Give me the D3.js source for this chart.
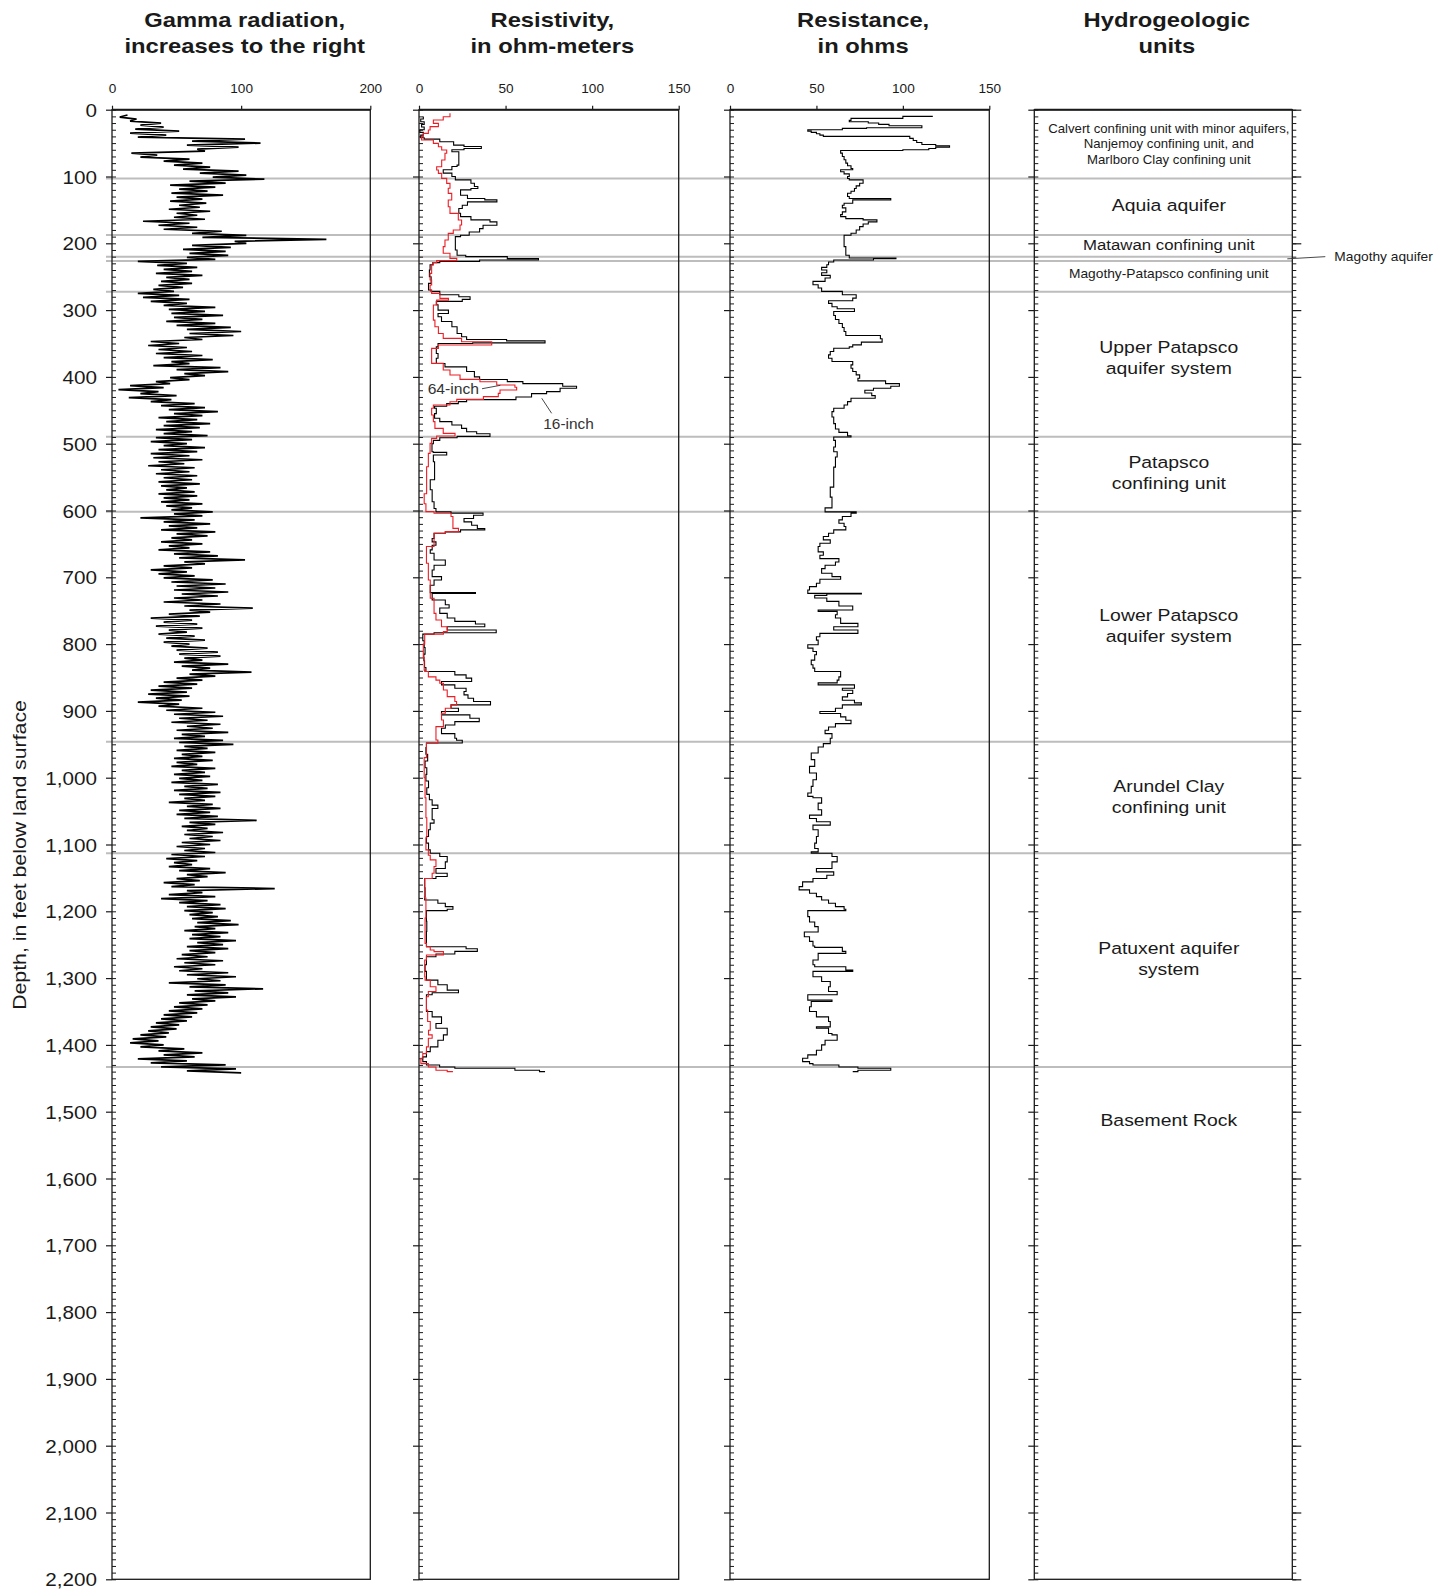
<!DOCTYPE html>
<html>
<head>
<meta charset="utf-8">
<script src="https://cdn.jsdelivr.net/npm/d3@7"></script>
<style>
  html, body { margin: 0; padding: 0; background: #fff; }
  svg { display: block; font-family: "Liberation Sans", Arial, Helvetica, sans-serif; }
</style>
</head>
<body>
<svg id="chart" width="1450" height="1589"></svg>
<script>
// ---------------------------------------------------------------------------
// Borehole geophysical logs, depth in feet below land surface
// ---------------------------------------------------------------------------

// Natural gamma log, sampled every 3 ft starting at 8 ft (0-200 scale)
const gammaTopDepth = 8;
const gammaStep = 3;
const gammaValues = [
  12,6,19,14,38,22,40,18,52,14,
  42,20,103,62,115,58,98,66,72,15,
  35,22,60,40,70,48,76,55,98,68,
  104,78,118,60,88,45,80,52,74,46,
  86,50,70,45,73,52,68,44,76,50,
  66,48,72,24,60,36,66,40,85,62,
  104,70,166,95,104,62,92,55,88,60,
  90,58,80,20,58,35,66,40,62,34,
  70,42,60,38,62,36,55,32,48,20,
  52,24,60,30,58,40,80,44,72,46,
  86,48,70,42,80,50,92,58,100,60,
  94,56,70,30,52,28,58,36,62,34,
  70,40,78,46,60,32,84,50,90,56,
  72,45,60,34,45,14,40,5,36,22,
  50,13,46,30,64,38,72,44,82,48,
  70,36,66,42,76,40,68,34,62,40,
  74,34,62,30,58,40,72,36,66,30,
  60,32,70,36,56,28,64,38,60,34,
  66,40,62,36,68,38,58,42,64,36,
  66,40,60,38,70,42,62,46,78,48,
  70,22,64,40,76,44,66,38,80,50,
  74,46,62,38,70,44,60,36,76,48,
  82,52,103,56,72,40,62,30,58,36,
  64,40,78,46,88,50,80,48,90,54,
  82,48,70,40,84,56,109,60,76,44,
  68,30,62,40,66,34,70,44,58,36,
  64,42,72,40,60,46,74,50,82,52,
  84,56,70,48,90,54,76,62,108,60,
  80,50,70,40,66,36,62,30,58,28,
  60,34,54,20,52,36,70,42,80,48,
  86,52,74,46,84,58,78,50,90,54,
  72,48,86,52,94,56,74,50,80,54,
  70,48,78,50,66,46,80,54,72,48,
  76,52,70,46,82,56,74,48,84,52,
  80,56,72,44,78,58,84,52,76,50,
  82,56,112,60,80,54,74,58,86,56,
  78,60,84,54,76,50,72,56,80,46,
  72,42,66,48,62,44,76,52,88,58,
  74,50,68,40,64,46,126,58,70,44,
  80,38,74,52,84,58,88,56,78,60,
  82,62,92,66,98,64,80,56,90,62,
  84,60,96,66,86,58,90,60,80,54,
  74,50,86,56,80,48,70,52,90,58,
  96,66,84,44,88,60,117,64,90,58,
  96,62,80,52,74,48,70,44,66,40,
  62,38,58,34,52,30,50,28,44,22,
  42,16,36,14,40,22,56,36,70,40,
  64,20,58,30,88,38,96,58,100
];

// 16-inch normal resistivity, [depth ft, ohm-meters]
const resistivity16 = [
  [10,2.5],[14,1],[18,3],[22,1.5],[26,3],[30,0.5],[34,2.5],[38,1],[42,3],[44,12],[48,20],[53,26],[55,36],[58,26],
  [60,19],[63,23],[75,23],[83,22],[85,19],[90,14],[95,19],[100,21],[105,30],[110,32],[115,34],[118,30],[120,24],
  [128,28],[133,38],[135,45],[138,28],[143,25],[148,23],[155,24],[160,30],[165,41],[168,45],[173,37],[178,35],
  [183,29],[188,24],[190,21],[200,21],[210,22],[218,27],[220,51],[223,69],[225,35],[227,12],[229,8],[232,6.4],
  [240,6],[250,7],[260,5.5],[270,7],[272,12],[277,23],[280,29.5],[284,25],[287,10],[292,11],[300,17],[305,11],
  [310,13],[317,19],[325,22],[335,24.6],[340,27.5],[344,50.6],[346,72.8],[349,31],[350,11],[355,10],[365,11],
  [372,10],[380,15],[385,27.5],[392,32],[400,35],[404,51],[407,60],[410,83],[414,91],[417,81.5],[422,73.7],
  [425,65],[430,56],[434,27.5],[437,22.7],[440,16],[444,9],[447,10],[455,9],[462,12],[467,19],[472,24.6],
  [477,27.5],[482,33.3],[485,41],[489,22],[491,12],[495,8.3],[500,7.5],[512,8.3],[513,16],[517,8.3],[527,9],
  [540,9],[554,6.5],[569,7.6],[587,8.7],[597,9.8],[602,18.5],[604,37],[607,31.5],[612,26],[617,30.4],[622,33.7],
  [627,38],[629,24],[632,15.2],[634,8.7],[642,7.6],[647,9.8],[652,7.6],[659,6.5],[664,8.7],[674,15.2],[682,8.7],
  [689,7.6],[699,13],[704,8.7],[712,6.5],[719,6.5],[723,32.6],[724,7.6],[734,15.2],[741,17.4],[746,12],[754,16.3],
  [761,20.7],[766,32.6],[770,38],[774,16.3],[779,44.6],[783,8.7],[785,2.2],[795,3],[805,3.5],[815,2.8],[825,3.2],
  [835,4],[841,20.7],[846,27.2],[851,30.4],[856,13],[861,20.7],[866,27.2],[871,26],[876,28.3],[881,31.5],[886,41.3],
  [891,18.5],[896,22.8],[901,13],[906,29.4],[911,34.8],[916,20.7],[921,15.2],[926,13],[934,20.7],[941,21.7],
  [944,25],[948,4.3],[955,4],[965,5],[975,3.5],[985,4.5],[995,4],[1005,5.5],[1015,4.5],[1025,6],[1033,7.6],
  [1041,10.9],[1046,7.6],[1063,8.7],[1068,6.5],[1078,5.5],[1088,4.3],[1098,5.5],[1108,6.5],[1113,12],[1118,16.3],
  [1126,15.2],[1136,9.8],[1143,16.3],[1148,9.8],[1151,3.3],[1165,3.5],[1178,3.3],[1183,10.9],[1188,15.2],
  [1193,19.6],[1197,16.3],[1199,4.3],[1215,4.5],[1230,4.3],[1248,4.3],[1253,27.2],[1256,33.7],[1260,20.7],
  [1264,9.8],[1268,4.3],[1280,3.5],[1290,4.3],[1303,10.9],[1310,16.3],[1318,22.8],[1322,7.6],[1325,4.3],
  [1338,4.3],[1350,7.6],[1358,13],[1368,9.8],[1375,16.3],[1385,14.1],[1393,10.9],[1403,6.5],[1410,4.3],
  [1418,2.2],[1425,4.3],[1430,11.9],[1433,20.7],[1435,55.4],[1438,69.6],[1440,72.8]
];

// 64-inch normal resistivity, [depth ft, ohm-meters]
const resistivity64 = [
  [5.5,17.9],[10.5,14],[15.4,8.3],[20.4,11.2],[25.4,6.4],[30.4,5.4],[35.4,2.5],[40.4,1.5],[45.4,8.3],[50.4,11.2],
  [55.4,13.1],[60.4,16],[65.3,15],[75.3,13.1],[85.3,10.2],[90.3,11.2],[95.3,13.1],[102.8,16],[110.3,17.9],
  [117.7,16.9],[125.2,18.9],[135.2,16.9],[145.2,17.9],[155.2,22.7],[165.1,24.6],[172.6,23.7],[180.1,19.8],
  [185.1,16.9],[195.1,15],[205,14],[215,17.9],[222.5,21.8],[226,10.2],[229,8.3],[232.5,7.3],[245,6.4],[255,7.3],
  [262.4,6.4],[270,7.3],[275,12.1],[282.4,17],[285,10.2],[292.4,8.3],[305,8.3],[315,9.2],[325,11.2],[335,14],
  [342.3,24.6],[347.3,42],[352.3,11.2],[357.3,7.3],[369.7,7.3],[379.7,14],[389.7,17.9],[397.2,23.7],[403.7,35.2],
  [407.2,44.9],[412.1,55.4],[415.6,56.4],[419.6,46.8],[424.6,45.8],[429.6,37.2],[433.6,21.8],[437.1,17.9],
  [442.1,8.3],[447,7.3],[457,8.3],[467,9.2],[477,14],[484.5,20.8],[488.5,10.2],[492,7.3],[499.5,6.4],[514.5,5.4],
  [534.4,4.4],[559.4,4.4],[575,3],[590,4],[601.7,8.7],[604.2,18.5],[609,19.6],[619,19.6],[626.7,22.8],[631.6,15.2],
  [634,8.7],[654,4.3],[679,5.4],[704,6.5],[724,6.5],[731.4,8.7],[744,8.7],[754,9.8],[764,13],[774,16.3],
  [781.3,14.1],[785,3.3],[800,2.5],[820,3],[839,3.3],[841,5.4],[849,9.8],[854,12],[858.7,14.1],[868.7,16.3],
  [878.6,20.7],[886,21.7],[891,18.5],[896,15.2],[903.6,13],[913.6,14.1],[923.6,9.8],[933.5,9.8],[943.5,10.9],
  [948.5,4.3],[970,3],[1000,3.5],[1030,4],[1060,4.5],[1090,4],[1108,5.4],[1116,6.5],[1123,9.8],[1133,8.7],
  [1143,7.6],[1151,3.3],[1180,4],[1210,3.5],[1248,4.3],[1253,6.5],[1258,8.7],[1260.4,14.1],[1265.4,4.3],
  [1273,3.3],[1298,3.5],[1303,6.5],[1313,9.8],[1320,5.4],[1328,4.3],[1348,5],[1365,6.5],[1378,5.5],[1385,7.6],
  [1390,5.4],[1403,4.3],[1413,2.2],[1420,1.1],[1428,5.4],[1433,9.8],[1438,16.3],[1440,19.6]
];

// Single-point resistance, [depth ft, ohms]
const resistance = [
  [9,117],[10,100],[12,100],[13,70],[16,69],[18,80],[20,86],[22,92],[24,111],[26,111],[27,79],[28,65],[30,45],
  [32,47],[34,50],[36,52],[38,54],[40,104],[43,106],[46,108],[49,111],[52,119],[54,127],[56,119],[58,115],
  [60,100],[61,64],[65,65],[70,66],[75,67],[80,68],[84,70],[88,71],[90,64],[93,66],[96,69],[100,68],[103,69],
  [105,77],[110,75],[114,73],[118,72],[122,70],[125,68],[130,69],[133,93],[135,71],[140,66],[143,65],[147,67],
  [153,65],[157,64],[160,67],[163,77],[165,85],[168,80],[171,77],[175,75],[180,73],[185,70],[188,66],[195,66],
  [205,67],[212,67],[218,69],[222,96],[223,83],[225,60],[228,57],[232,56],[236,53],[240,56],[244,53],[248,58],
  [252,55],[257,48],[262,51],[267,53],[272,65],[277,73],[282,71],[286,57],[290,59],[295,62],[298,72],[302,60],
  [308,61],[314,63],[320,65],[326,66],[332,67],[338,87],[343,88],[348,76],[352,71],[355,69],[357,60],[362,58],
  [367,57],[372,59],[377,71],[382,70],[387,71],[392,73],[397,75],[402,74],[406,90],[410,98],[414,93],[417,83],
  [420,78],[424,82],[428,84],[432,70],[437,68],[442,66],[447,60],[452,59],[460,60],[470,61],[478,63],[483,68],
  [488,70],[490,60],[495,61],[505,60],[512,62],[520,61],[535,60],[550,60],[565,58],[580,59],[590,59],[596,55],
  [602,73],[604,70],[609,65],[614,63],[619,66],[624,67],[629,60],[634,57],[639,54],[644,58],[649,52],[654,51],
  [662,54],[667,52],[672,63],[677,61],[682,55],[687,53],[694,59],[699,64],[703,52],[709,50],[714,46],[719,45],
  [724,76],[725,56],[727,49],[731,56],[736,63],[743,71],[749,51],[751,62],[756,61],[761,64],[769,74],[774,60],
  [779,74],[784,52],[789,50],[794,51],[801,45],[806,48],[811,50],[816,49],[824,47],[831,48],[836,49],[841,64],
  [849,63],[854,62],[858,51],[861,72],[866,65],[869,71],[874,68],[879,65],[884,72],[888,76],[891,65],[896,61],
  [901,52],[904,64],[909,67],[914,70],[919,61],[924,57],[929,55],[934,59],[941,58],[949,54],[954,51],[963,47],
  [973,49],[983,46],[993,50],[1003,48],[1013,47],[1023,45],[1028,48],[1030,53],[1038,51],[1048,53],[1056,46],
  [1061,50],[1066,58],[1071,48],[1078,51],[1088,50],[1098,49],[1106,51],[1111,47],[1113,59],[1118,62],[1126,59],
  [1136,50],[1141,60],[1146,56],[1151,48],[1156,42],[1163,40],[1168,46],[1173,50],[1178,53],[1183,57],[1188,61],
  [1193,66],[1197,67],[1199,45],[1208,46],[1216,49],[1223,51],[1231,43],[1238,46],[1245,48],[1252,49],[1254,65],
  [1260,67],[1263,51],[1273,48],[1280,49],[1283,67],[1288,71],[1290,48],[1298,53],[1305,58],[1313,57],[1320,62],
  [1325,45],[1333,59],[1335,47],[1343,46],[1350,50],[1358,57],[1365,58],[1373,50],[1375,57],[1383,59],[1385,62],
  [1393,55],[1400,53],[1408,50],[1415,45],[1420,42],[1425,46],[1428,48],[1430,63],[1433,74],[1435,93],[1438,74],
  [1440,71]
];

// Hydrogeologic unit contacts (ft) and unit names, top to bottom
const unitContacts = [103, 187.6, 220, 226.5, 272.4, 489.5, 601.8, 946, 1113, 1433];
const unitNames = [
  ["Calvert confining unit with minor aquifers,", "Nanjemoy confining unit, and", "Marlboro Clay confining unit"],
  ["Aquia aquifer"],
  ["Matawan confining unit"],
  ["Magothy aquifer"],
  ["Magothy-Patapsco confining unit"],
  ["Upper Patapsco", "aquifer system"],
  ["Patapsco", "confining unit"],
  ["Lower Patapsco", "aquifer system"],
  ["Arundel Clay", "confining unit"],
  ["Patuxent aquifer", "system"],
  ["Basement Rock"]
];

// Track titles and top-axis tick values
const trackTitles = [
  ["Gamma radiation,", "increases to the right"],
  ["Resistivity,", "in ohm-meters"],
  ["Resistance,", "in ohms"],
  ["Hydrogeologic", "units"]
];
const gammaTicks = [0, 100, 200];
const resistivityTicks = [0, 50, 100, 150];
const resistanceTicks = [0, 50, 100, 150];
const depthDomain = [0, 2200];
const depthMajorTicks = d3.range(0, 2201, 100);
const depthMinorTicks = d3.range(0, 2201, 10);

// ---------------------------------------------------------------------------
// Layout
// ---------------------------------------------------------------------------
const svg = d3.select("#chart");
const INK = "#1a1a1a";
const y = d3.scaleLinear().domain(depthDomain).range([109.7, 1579.3]);

const tracks = [
  { x0: 112,    x1: 370.3,  domain: [0, 200], ticks: gammaTicks },
  { x0: 419,    x1: 678.7,  domain: [0, 150], ticks: resistivityTicks },
  { x0: 730,    x1: 989.3,  domain: [0, 150], ticks: resistanceTicks },
  { x0: 1034.3, x1: 1292.3, domain: null,     ticks: null }
];
tracks.forEach(t => { if (t.domain) t.x = d3.scaleLinear().domain(t.domain).range([t.x0, t.x1]); });

// text helper: horizontally widened sans serif
function label(sel, x, yy, str, size, opts = {}) {
  const sx = opts.sx || 1.12;
  return sel.append("text")
    .attr("transform", `translate(${x},${yy}) scale(${sx},1)`)
    .attr("text-anchor", opts.anchor || "middle")
    .attr("font-size", size)
    .attr("font-weight", opts.weight || "normal")
    .attr("fill", opts.fill || INK)
    .text(str);
}

// ---------------------------------------------------------------------------
// Unit contacts (grey lines across all tracks)
// ---------------------------------------------------------------------------
const gContacts = svg.append("g");
gContacts.selectAll("line").data(unitContacts).join("line")
  .attr("x1", tracks[0].x0 - 6).attr("x2", tracks[3].x1)
  .attr("y1", d => y(d)).attr("y2", d => y(d))
  .attr("stroke", "#bdbdbd").attr("stroke-width", 2);

// ---------------------------------------------------------------------------
// Track frames, depth ticks and top axes
// ---------------------------------------------------------------------------
tracks.forEach((t, i) => {
  const g = svg.append("g");

  // minor depth ticks inside the left edge
  g.append("g").attr("transform", `translate(${t.x0},0)`)
    .call(d3.axisRight(y).tickValues(depthMinorTicks).tickSize(4).tickFormat(""))
    .call(a => a.select(".domain").remove())
    .call(a => a.selectAll("line").attr("stroke", INK).attr("stroke-width", 1));

  // major depth ticks outside the left edge
  const major = g.append("g").attr("transform", `translate(${t.x0},0)`)
    .call(d3.axisLeft(y).tickValues(depthMajorTicks).tickSize(6)
      .tickFormat(i === 0 ? d3.format(",") : () => ""))
    .call(a => a.select(".domain").remove())
    .call(a => a.selectAll("line").attr("stroke", INK).attr("stroke-width", 1.2));
  if (i === 0) {
    major.selectAll("text")
      .attr("x", null).attr("dy", null).attr("y", 6.6)
      .attr("transform", "translate(-15,0) scale(1.13,1)")
      .attr("font-size", 18.3)
      .attr("font-family", "Liberation Sans, Arial, sans-serif")
      .attr("fill", INK);
  }

  if (i === 3) {
    // right-hand ticks on the units column
    g.append("g").attr("transform", `translate(${t.x1},0)`)
      .call(d3.axisRight(y).tickValues(depthMinorTicks).tickSize(4).tickFormat(""))
      .call(a => a.select(".domain").remove())
      .call(a => a.selectAll("line").attr("stroke", INK).attr("stroke-width", 1));
    g.append("g").attr("transform", `translate(${t.x1},0)`)
      .call(d3.axisRight(y).tickValues(depthMajorTicks).tickSize(9).tickFormat(""))
      .call(a => a.select(".domain").remove())
      .call(a => a.selectAll("line").attr("stroke", INK).attr("stroke-width", 1.2));
  }

  // frame
  g.append("rect")
    .attr("x", t.x0).attr("y", y(0))
    .attr("width", t.x1 - t.x0).attr("height", y(2200) - y(0))
    .attr("fill", "none").attr("stroke", INK).attr("stroke-width", 1.3);
  g.append("line")
    .attr("x1", t.x0).attr("x2", t.x1).attr("y1", y(0)).attr("y2", y(0))
    .attr("stroke", INK).attr("stroke-width", 2);

  // top value axis
  if (t.x) {
    g.append("g").attr("transform", `translate(0,${y(0)})`)
      .call(d3.axisTop(t.x).tickValues(t.ticks).tickSize(4).tickSizeOuter(0))
      .call(a => a.select(".domain").remove())
      .call(a => a.selectAll("line").attr("stroke", INK).attr("stroke-width", 1.2))
      .call(a => a.selectAll("text")
        .attr("y", -16.9).attr("dy", null)
        .attr("transform", "scale(1.09,1)")
        .attr("font-size", 12.5)
        .attr("font-family", "Liberation Sans, Arial, sans-serif")
        .attr("fill", INK));
  }

  // title
  const cx = (t.x0 + t.x1) / 2 + 3.5;
  trackTitles[i].forEach((line, k) => {
    label(svg, cx, 27 + k * 26.3, line, 20.5, { weight: "bold", sx: 1.16 });
  });
});

// depth axis title
svg.append("text")
  .attr("transform", "translate(19.5,855) rotate(-90) scale(1.12,1)")
  .attr("text-anchor", "middle").attr("dominant-baseline", "central")
  .attr("font-size", 19).attr("fill", INK)
  .text("Depth, in feet below land surface");

// ---------------------------------------------------------------------------
// Log curves
// ---------------------------------------------------------------------------
const gamma = gammaValues.map((v, i) => [gammaTopDepth + i * gammaStep, v]);
const gx = tracks[0].x, rx = tracks[1].x, sx = tracks[2].x;

svg.append("path").datum(gamma)
  .attr("d", d3.line().x(d => gx(d[1])).y(d => y(d[0])))
  .attr("fill", "none").attr("stroke", "#000").attr("stroke-width", 1.7)
  .attr("stroke-linejoin", "bevel");

const stepLine = xs => d3.line().curve(d3.curveStepBefore).x(d => xs(d[1])).y(d => y(d[0]));

svg.append("path").datum(resistivity16)
  .attr("d", stepLine(rx))
  .attr("fill", "none").attr("stroke", "#000").attr("stroke-width", 1.1);

svg.append("path").datum(resistivity64)
  .attr("d", stepLine(rx))
  .attr("fill", "none").attr("stroke", "#ee1c24").attr("stroke-width", 1.1);

svg.append("path").datum(resistance)
  .attr("d", stepLine(sx))
  .attr("fill", "none").attr("stroke", "#000").attr("stroke-width", 1.1);

// curve annotations
const notes = svg.append("g");
notes.append("line")
  .attr("x1", rx(36.4)).attr("y1", y(417.7)).attr("x2", rx(47)).attr("y2", y(412.6))
  .attr("stroke", "#333").attr("stroke-width", 0.9);
label(notes, rx(5), y(418.6) + 5, "64-inch", 14, { anchor: "start", sx: 1.12, fill: "#333" });
notes.append("line")
  .attr("x1", rx(76.6)).attr("y1", y(454.5)).attr("x2", rx(70.9)).attr("y2", y(432))
  .attr("stroke", "#333").attr("stroke-width", 0.9);
label(notes, rx(71.8), y(471) + 5, "16-inch", 14, { anchor: "start", sx: 1.1, fill: "#333" });

// ---------------------------------------------------------------------------
// Hydrogeologic unit labels
// ---------------------------------------------------------------------------
const hu = tracks[3];
const hx = (hu.x0 + hu.x1) / 2 + 5.5;
const unitStyle = i => {
  if (i === 0) return { size: 12, lead: 15.3, sx: 1.1, shift: 0 };
  if (i === 2) return { size: 15, lead: 18, sx: 1.12, shift: -1 };
  if (i === 4) return { size: 12.3, lead: 15, sx: 1.12, shift: -3 };
  if (i === 5) return { size: 17, lead: 21, sx: 1.14, shift: -7 };
  return { size: 17, lead: 21, sx: 1.14, shift: -1.5 };
};
unitNames.forEach((lines, i) => {
  const top = i === 0 ? 0 : unitContacts[i - 1];
  const bottom = i < unitContacts.length ? unitContacts[i] : null;
  if (i === 3) {
    // thin unit labelled outside the column with a leader
    const ym = y((top + bottom) / 2);
    svg.append("line")
      .attr("x1", hu.x1 - 5).attr("y1", ym).attr("x2", hu.x1 + 33).attr("y2", y(top))
      .attr("stroke", "#333").attr("stroke-width", 0.9);
    label(svg, hu.x1 + 42, y(top) + 4.5, lines[0], 12.5, { anchor: "start", sx: 1.1 });
    return;
  }
  const st = unitStyle(i);
  const midDepth = bottom !== null ? (top + bottom) / 2 : top + 82;
  const cy = y(midDepth) + st.shift;
  const n = lines.length;
  lines.forEach((line, k) => {
    const ly = cy + (k - (n - 1) / 2) * st.lead + st.size * 0.36;
    label(svg, hx, ly, line, st.size, { sx: st.sx });
  });
});
</script>
</body>
</html>
